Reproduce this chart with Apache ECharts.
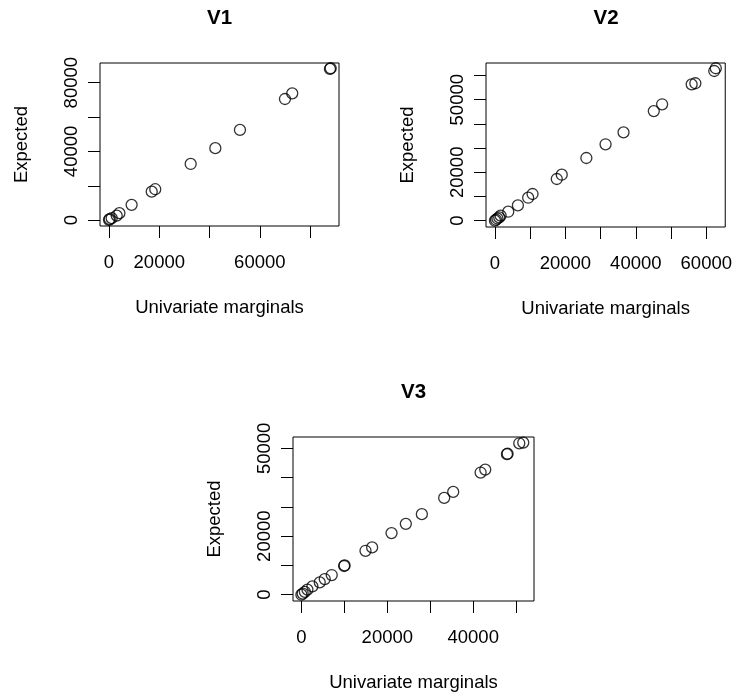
<!DOCTYPE html>
<html>
<head>
<meta charset="utf-8">
<script src="https://cdn.jsdelivr.net/npm/echarts@6/dist/echarts.min.js"></script>
<style>
html,body{margin:0;padding:0;background:#fff;}
#main{width:735px;height:696px;}
</style>
</head>
<body>
<div id="main"></div>
<script>
// ---- Data ----
const titles = ['V1', 'V2', 'V3'];
const xName = 'Univariate marginals';
const yName = 'Expected';

const v1x = [0, 300, 1070, 3060, 4140, 9000, 17000, 18400, 32500, 42300, 52100, 70000, 72900, 87900, 88200];
const v1y = [200, 600, 1160, 2670, 4070, 8900, 16600, 18000, 32700, 41900, 52500, 70500, 73800, 88000, 88400];

const v2x = [0, 300, 700, 1200, 1600, 3770, 6510, 9430, 10670, 17550, 18960, 25950, 31400, 36500, 45100, 47460, 55850, 56900, 62270, 62700];
const v2y = [0, 400, 900, 1400, 2070, 3720, 6360, 9500, 11030, 17230, 19000, 25900, 31570, 36500, 45300, 48100, 56360, 56800, 61860, 63000];

const v3x = [0, 300, 800, 1400, 2560, 4270, 5430, 7060, 9950, 10050, 14920, 16460, 20980, 24310, 28040, 33240, 35340, 41720, 42800, 47850, 48000, 50720, 51650];
const v3y = [0, 400, 1000, 1760, 2860, 4230, 5350, 6720, 9800, 10000, 15000, 16160, 21040, 24210, 27510, 33070, 35120, 41730, 42750, 48000, 48150, 51720, 51960];

// tick positions and labelled ticks
const v1xTicks = [0, 20000, 40000, 60000, 80000];
const v1xLabels = [0, 20000, 60000];
const v1yTicks = [0, 20000, 40000, 60000, 80000];
const v1yLabels = [0, 40000, 80000];

const v2xTicks = [0, 10000, 20000, 30000, 40000, 50000, 60000];
const v2xLabels = [0, 20000, 40000, 60000];
const v2yTicks = [0, 10000, 20000, 30000, 40000, 50000, 60000];
const v2yLabels = [0, 20000, 50000];

const v3xTicks = [0, 10000, 20000, 30000, 40000, 50000];
const v3xLabels = [0, 20000, 40000];
const v3yTicks = [0, 10000, 20000, 30000, 40000, 50000];
const v3yLabels = [0, 20000, 50000];

// axis ranges (R style 4% extension)
const v1xRange = [-3580, 91500];
const v1yRange = [-3400, 91450];
const v2xRange = [-2547, 65383];
const v2yRange = [-2603, 65165];
const v3xRange = [-1958, 54149];
const v3yRange = [-2148, 53870];

// ---- Chart ----
const FONT = 'Liberation Sans, Arial, sans-serif';
const FS = 18.5;

function pairs(xs, ys) { return xs.map((x, i) => [x, ys[i]]); }

function xAxis(gi, range, ticks, labels) {
  return {
    type: 'value', gridIndex: gi, min: range[0], max: range[1],
    name: xName, nameLocation: 'middle', nameGap: 72,
    nameTextStyle: { fontFamily: FONT, fontSize: FS, color: '#000' },
    axisLine: { show: false, onZero: false },
    axisTick: { show: true, length: 12, lineStyle: { color: '#000', width: 1 }, customValues: ticks },
    axisLabel: { show: true, fontFamily: FONT, fontSize: FS, color: '#000', margin: 27, customValues: labels, formatter: v => String(v) },
    splitLine: { show: false }
  };
}
function yAxis(gi, range, ticks, labels) {
  return {
    type: 'value', gridIndex: gi, min: range[0], max: range[1],
    name: yName, nameLocation: 'middle', nameGap: 69,
    nameTextStyle: { fontFamily: FONT, fontSize: FS, color: '#000' },
    axisLine: { show: false, onZero: false },
    axisTick: { show: true, length: 12, lineStyle: { color: '#000', width: 1 }, customValues: ticks },
    axisLabel: { show: true, rotate: 90, fontFamily: FONT, fontSize: FS, color: '#000', margin: 19, customValues: labels, formatter: v => String(v) },
    splitLine: { show: false }
  };
}
function scatter(gi, xs, ys) {
  return {
    type: 'scatter', xAxisIndex: gi, yAxisIndex: gi,
    data: pairs(xs, ys), symbol: 'circle', symbolSize: 11,
    itemStyle: { color: 'rgba(0,0,0,0)', borderColor: '#000', borderWidth: 1.3 },
    emphasis: { disabled: true }, silent: true, animation: false
  };
}

const chart = echarts.init(document.getElementById('main'), null, { renderer: 'canvas' });
const gridBase = { show: true, borderColor: '#000', borderWidth: 1, backgroundColor: 'transparent', containLabel: false };

function titleText(t, cx, cy) {
  return {
    type: 'text', x: cx, y: cy, silent: true,
    style: { text: t, fontFamily: FONT, fontSize: 20.5, fontWeight: 'bold', fill: '#000', align: 'center', verticalAlign: 'middle' }
  };
}

chart.setOption({
  animation: false,
  backgroundColor: '#fff',
  graphic: [
    titleText(titles[0], 219.5, 18),
    titleText(titles[1], 606, 18),
    titleText(titles[2], 413.5, 392)
  ],
  grid: [
    Object.assign({ left: 100, top: 63, width: 239, height: 163 }, gridBase),
    Object.assign({ left: 486, top: 63, width: 240, height: 164 }, gridBase),
    Object.assign({ left: 293, top: 437, width: 241, height: 164 }, gridBase)
  ],
  xAxis: [
    xAxis(0, v1xRange, v1xTicks, v1xLabels),
    xAxis(1, v2xRange, v2xTicks, v2xLabels),
    xAxis(2, v3xRange, v3xTicks, v3xLabels)
  ],
  yAxis: [
    yAxis(0, v1yRange, v1yTicks, v1yLabels),
    yAxis(1, v2yRange, v2yTicks, v2yLabels),
    yAxis(2, v3yRange, v3yTicks, v3yLabels)
  ],
  series: [
    scatter(0, v1x, v1y),
    scatter(1, v2x, v2y),
    scatter(2, v3x, v3y)
  ]
});
</script>
</body>
</html>
